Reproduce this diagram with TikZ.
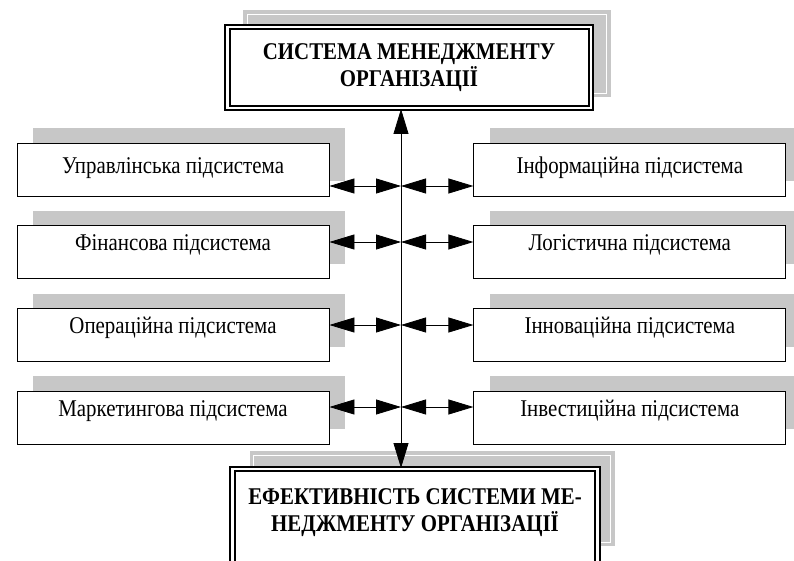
\documentclass[tikz,border=0pt]{standalone}
\usepackage{fontspec}
\setmainfont[FakeStretch=0.87]{Liberation Serif}
\usetikzlibrary{positioning, arrows.meta, shadows, backgrounds, calc}
\tikzset{>={Triangle[length=25pt,width=15pt]}}
\colorlet{shadegray}{black!22}
\tikzset{
  mainbox/.style={rectangle, draw=black, line width=2pt, double=white, double distance=2.5pt, fill=white, align=center, inner sep=0pt, font=\fontsize{24}{27}\selectfont\bfseries},
  subsys/.style={rectangle, draw=black, line width=0.8pt, fill=white, minimum width=312pt, minimum height=53pt, inner sep=0pt, text height=16pt, text depth=19pt, font=\fontsize{24}{27}\selectfont, general shadow={fill=shadegray, shadow xshift=16pt, shadow yshift=15pt}},
  shadebox/.style={fill=shadegray},
  shadeline/.style={draw=white, line width=0.6pt},
  twoway/.style={<->, line width=0.8pt}
}

\begin{document}
\begin{tikzpicture}[x=1pt, y=-1pt]
  \useasboundingbox (0,0) rectangle (794,561);

  % Nodes
  \node[mainbox, minimum width=363.5pt, minimum height=81pt] (top) at (409,67.5) {СИСТЕМА МЕНЕДЖМЕНТУ\\ОРГАНІЗАЦІЇ};

  \node[subsys, text depth=8pt] (l1) at (173,169.5) {Управлінська підсистема};
  \node[subsys, below=29pt of l1] (l2) {Фінансова підсистема};
  \node[subsys, below=29pt of l2] (l3) {Операційна підсистема};
  \node[subsys, below=29pt of l3] (l4) {Маркетингова підсистема};

  \node[subsys, text depth=8pt, right=144pt of l1] (r1) {Інформаційна підсистема};
  \node[subsys, right=144pt of l2] (r2) {Логістична підсистема};
  \node[subsys, right=144pt of l3] (r3) {Інноваційна підсистема};
  \node[subsys, right=144pt of l4] (r4) {Інвестиційна підсистема};

  \node[mainbox, minimum width=365pt, minimum height=97pt, text depth=15pt] (eff) at (415,517.5) {ЕФЕКТИВНІСТЬ СИСТЕМИ МЕ-\\НЕДЖМЕНТУ ОРГАНІЗАЦІЇ};

  % Shadows of the two main boxes
  \begin{scope}[on background layer]
    \fill[shadebox] ($(top.north west)+(17,-16)$) rectangle ($(top.south east)+(19,-12)$);
    \draw[shadeline] ($(top.north west)+(21,-12)$) rectangle ($(top.south east)+(15,-16)$);
    \fill[shadebox] ($(eff.north west)+(18,-17)$) rectangle ($(eff.south east)+(16,-21)$);
    \draw[shadeline] ($(eff.north west)+(22,-13)$) rectangle ($(eff.south east)+(12,-25)$);
  \end{scope}

  % Axis points
  \coordinate (a1) at (401,186);
  \coordinate (a2) at (401,242);
  \coordinate (a3) at (401,325);
  \coordinate (a4) at (401,407);

  % Arrows
  \draw[twoway] (top.south -| a1) -- (eff.north -| a1);
  \draw[twoway] (l1.east |- a1) -- (a1);
  \draw[twoway] (a1) -- (r1.west |- a1);
  \draw[twoway] (l2.east |- a2) -- (a2);
  \draw[twoway] (a2) -- (r2.west |- a2);
  \draw[twoway] (l3.east |- a3) -- (a3);
  \draw[twoway] (a3) -- (r3.west |- a3);
  \draw[twoway] (l4.east |- a4) -- (a4);
  \draw[twoway] (a4) -- (r4.west |- a4);
\end{tikzpicture}
\end{document}
